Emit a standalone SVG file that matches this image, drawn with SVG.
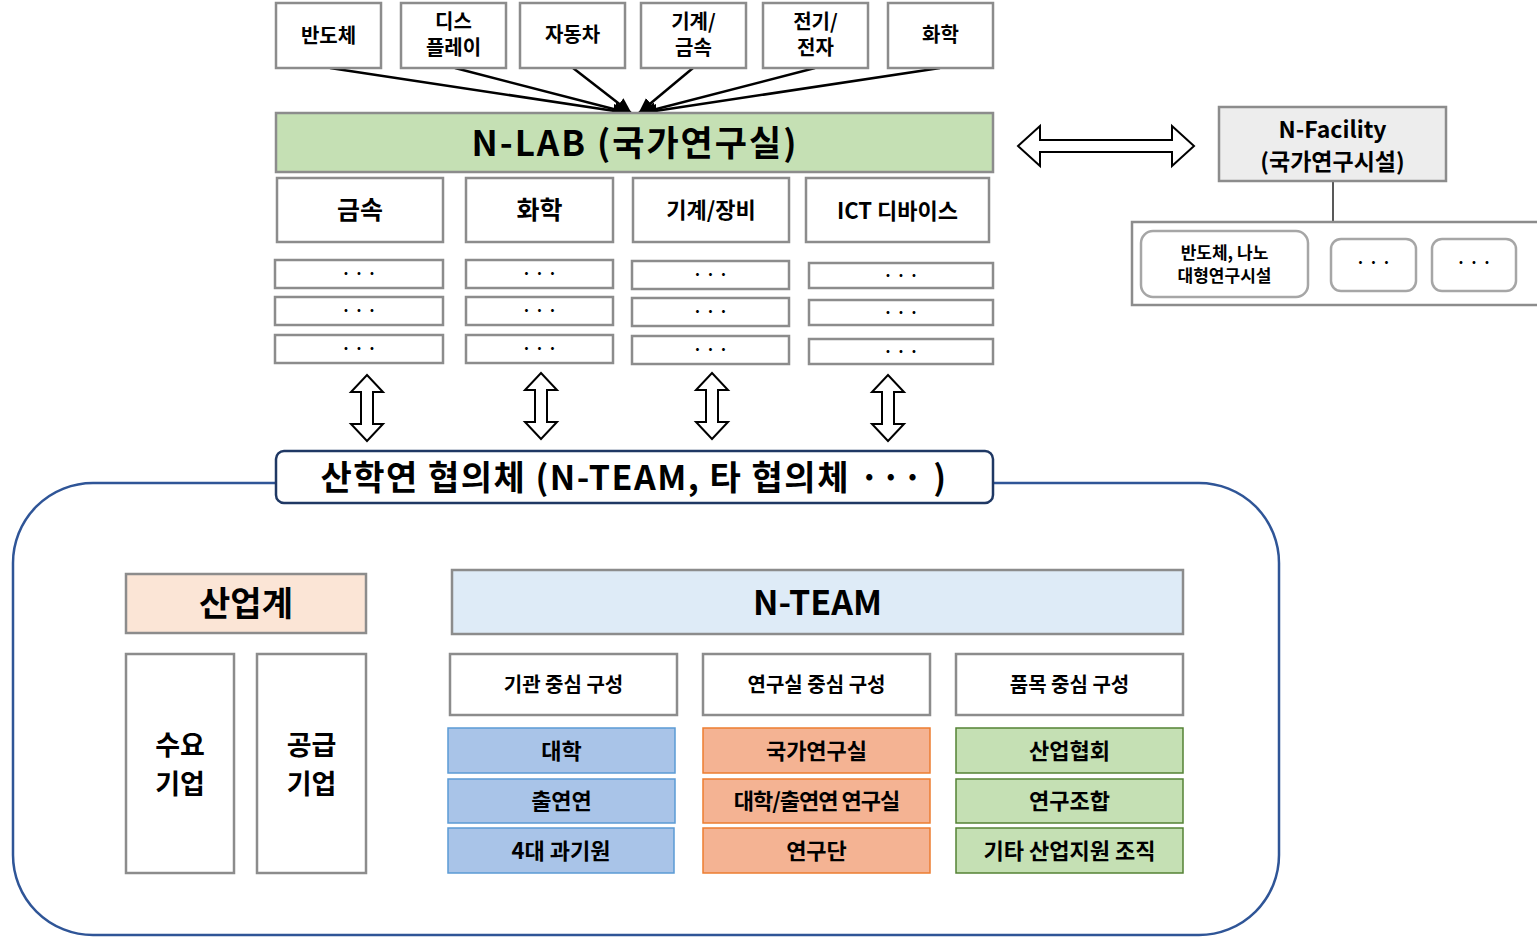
<svg xmlns="http://www.w3.org/2000/svg" width="1537" height="937" viewBox="0 0 1537 937">
<style>
text{font-family:"Noto Sans CJK KR","Noto Sans",sans-serif;font-weight:bold;text-anchor:middle;fill:#000}
.box{fill:#fff;stroke:#8c8c8c;stroke-width:2.5}
.dot{fill:#fff;stroke:#8c8c8c;stroke-width:2.5}
.conn{stroke:#000;stroke-width:2.5;fill:none}
.darr{fill:#fff;stroke:#000;stroke-width:2}
.blue{fill:#a9c4e8;stroke:#5b9bd5;stroke-width:1.5}
.orange{fill:#f4b393;stroke:#ed7d31;stroke-width:1.5}
.green{fill:#c5e0b4;stroke:#548235;stroke-width:1.5}
</style>
<defs>
<marker id="ah" markerWidth="16" markerHeight="14" refX="15" refY="7" orient="auto" markerUnits="userSpaceOnUse">
<path d="M0,0 L16,7 L0,14 Z" fill="#000"/>
</marker>
<path id="varr" d="M0,0 L16,17 L6,17 L6,49 L16,49 L0,66 L-16,49 L-6,49 L-6,17 L-16,17 Z"/>
</defs>

<!-- big container -->
<rect id="container" x="13" y="483" width="1266" height="452" rx="80" fill="#fff" stroke="#2f5597" stroke-width="2.5"/>

<!-- connectors -->
<g id="connectors">
<line class="conn" x1="330" y1="68" x2="628" y2="113" marker-end="url(#ah)"/>
<line class="conn" x1="455" y1="68" x2="629" y2="113" marker-end="url(#ah)"/>
<line class="conn" x1="573" y1="68" x2="631" y2="113" marker-end="url(#ah)"/>
<line class="conn" x1="693" y1="68" x2="639" y2="113" marker-end="url(#ah)"/>
<line class="conn" x1="815" y1="68" x2="641" y2="113" marker-end="url(#ah)"/>
<line class="conn" x1="940" y1="68" x2="642" y2="113" marker-end="url(#ah)"/>
<use href="#varr" class="darr" x="367" y="375"/>
<use href="#varr" class="darr" x="541" y="373"/>
<use href="#varr" class="darr" x="712" y="373"/>
<use href="#varr" class="darr" x="888" y="375"/>
<path class="darr" d="M1018,146 L1040,126 L1040,140 L1172,140 L1172,126 L1194,146 L1172,166 L1172,152 L1040,152 L1040,166 Z"/>
<line x1="1333" y1="181" x2="1333" y2="222" stroke="#595959" stroke-width="2"/>
</g>

<!-- top industry boxes -->
<g id="top-bandoche"><rect class="box" x="276" y="3" width="105" height="65"/><text x="328.5" y="43" font-size="20">반도체</text></g>
<g id="top-display"><rect class="box" x="401" y="3" width="105" height="65"/><text x="453.5" y="29" font-size="20">디스</text><text x="453.5" y="55" font-size="20">플레이</text></g>
<g id="top-car"><rect class="box" x="520" y="3" width="105" height="65"/><text x="572.5" y="42" font-size="20">자동차</text></g>
<g id="top-machine"><rect class="box" x="641" y="3" width="105" height="65"/><text x="693.5" y="29" font-size="20">기계/</text><text x="693.5" y="55" font-size="20">금속</text></g>
<g id="top-elec"><rect class="box" x="763" y="3" width="105" height="65"/><text x="815.5" y="29" font-size="20">전기/</text><text x="815.5" y="55" font-size="20">전자</text></g>
<g id="top-chem"><rect class="box" x="888" y="3" width="105" height="65"/><text x="940.5" y="42" font-size="20">화학</text></g>

<!-- N-LAB -->
<g id="nlab"><rect x="276" y="113" width="717" height="59" fill="#c5e0b4" stroke="#8c8c8c" stroke-width="2.5"/><text x="635" y="156" font-size="35" letter-spacing="2">N-LAB (국가연구실)</text></g>

<!-- categories -->
<g id="cat-metal"><rect class="box" x="277" y="178" width="166" height="64"/><text x="360" y="219" font-size="25">금속</text></g>
<g id="cat-chem"><rect class="box" x="466" y="178" width="147" height="64"/><text x="539.5" y="219" font-size="25">화학</text></g>
<g id="cat-mach"><rect class="box" x="633" y="178" width="156" height="64"/><text x="711" y="218" font-size="22">기계/장비</text></g>
<g id="cat-ict"><rect class="box" x="806" y="178" width="183" height="64"/><text x="897.5" y="219" font-size="22">ICT 디바이스</text></g>

<!-- dot rows -->
<g id="dots-1">
<rect class="dot" x="275" y="260" width="168" height="28"/><text x="359" y="279" font-size="16">· · ·</text>
<rect class="dot" x="275" y="297" width="168" height="28"/><text x="359" y="316" font-size="16">· · ·</text>
<rect class="dot" x="275" y="335" width="168" height="28"/><text x="359" y="354" font-size="16">· · ·</text>
</g>
<g id="dots-2">
<rect class="dot" x="466" y="260" width="147" height="28"/><text x="539.5" y="279" font-size="16">· · ·</text>
<rect class="dot" x="466" y="297" width="147" height="28"/><text x="539.5" y="316" font-size="16">· · ·</text>
<rect class="dot" x="466" y="335" width="147" height="28"/><text x="539.5" y="354" font-size="16">· · ·</text>
</g>
<g id="dots-3">
<rect class="dot" x="632" y="261" width="157" height="28"/><text x="710.5" y="280" font-size="16">· · ·</text>
<rect class="dot" x="632" y="298" width="157" height="28"/><text x="710.5" y="317" font-size="16">· · ·</text>
<rect class="dot" x="632" y="336" width="157" height="28"/><text x="710.5" y="355" font-size="16">· · ·</text>
</g>
<g id="dots-4">
<rect class="dot" x="809" y="263" width="184" height="25"/><text x="901" y="281" font-size="16">· · ·</text>
<rect class="dot" x="809" y="300" width="184" height="25"/><text x="901" y="318" font-size="16">· · ·</text>
<rect class="dot" x="809" y="339" width="184" height="25"/><text x="901" y="357" font-size="16">· · ·</text>
</g>

<!-- consortium band -->
<g id="consortium"><rect x="276" y="451" width="717" height="52" rx="8" fill="#fff" stroke="#1f3864" stroke-width="2.5"/><text x="634" y="490" font-size="34" letter-spacing="1.5">산학연 협의체 (N-TEAM, 타 협의체 ··· )</text></g>

<!-- N-Facility -->
<g id="nfacility"><rect x="1219" y="107" width="227" height="74" fill="#ededed" stroke="#8c8c8c" stroke-width="2.5"/><text x="1332.5" y="138" font-size="23">N-Facility</text><text x="1332.5" y="170" font-size="23">(국가연구시설)</text></g>
<g id="facility-group">
<rect x="1132" y="222" width="410" height="83" fill="#fff" stroke="#8c8c8c" stroke-width="2.5"/>
<rect x="1141" y="231" width="167" height="66" rx="12" fill="#fff" stroke="#a6a6a6" stroke-width="2.5"/><text x="1224.5" y="259" font-size="17">반도체, 나노</text><text x="1224.5" y="282" font-size="17">대형연구시설</text>
<rect x="1331" y="239" width="85" height="52" rx="10" fill="#fff" stroke="#a6a6a6" stroke-width="2.5"/><text x="1373.5" y="268" font-size="16">· · ·</text>
<rect x="1432" y="239" width="84" height="52" rx="10" fill="#fff" stroke="#a6a6a6" stroke-width="2.5"/><text x="1474" y="268" font-size="16">· · ·</text>
</g>

<!-- industry -->
<g id="industry"><rect x="126" y="574" width="240" height="59" fill="#fbe5d6" stroke="#8c8c8c" stroke-width="2.5"/><text x="246" y="616" font-size="34">산업계</text></g>
<g id="demand"><rect class="box" x="126" y="654" width="108" height="219"/><text x="180" y="755" font-size="27">수요</text><text x="180" y="794" font-size="27">기업</text></g>
<g id="supply"><rect class="box" x="257" y="654" width="109" height="219"/><text x="311.5" y="755" font-size="27">공급</text><text x="311.5" y="794" font-size="27">기업</text></g>

<!-- N-TEAM -->
<g id="nteam"><rect x="452" y="570" width="731" height="64" fill="#deebf7" stroke="#8c8c8c" stroke-width="2.5"/><text x="817.5" y="615" font-size="34">N-TEAM</text></g>
<g id="col-inst">
<rect class="box" x="450" y="654" width="227" height="61"/><text x="563.5" y="692" font-size="20" font-weight="normal">기관 중심 구성</text>
<rect class="blue" x="448" y="728" width="227" height="45"/><text x="561.5" y="759" font-size="22">대학</text>
<rect class="blue" x="448" y="779" width="227" height="44"/><text x="561.5" y="809" font-size="22">출연연</text>
<rect class="blue" x="448" y="828" width="226" height="45"/><text x="561" y="859" font-size="22">4대 과기원</text>
</g>
<g id="col-lab">
<rect class="box" x="703" y="654" width="227" height="61"/><text x="816.5" y="692" font-size="20" font-weight="normal">연구실 중심 구성</text>
<rect class="orange" x="703" y="728" width="227" height="45"/><text x="816.5" y="759" font-size="22">국가연구실</text>
<rect class="orange" x="703" y="779" width="227" height="44"/><text x="816.5" y="809" font-size="22" letter-spacing="-1">대학/출연연 연구실</text>
<rect class="orange" x="703" y="828" width="227" height="45"/><text x="816.5" y="859" font-size="22">연구단</text>
</g>
<g id="col-item">
<rect class="box" x="956" y="654" width="227" height="61"/><text x="1069.5" y="692" font-size="20" font-weight="normal">품목 중심 구성</text>
<rect class="green" x="956" y="728" width="227" height="45"/><text x="1069.5" y="759" font-size="22">산업협회</text>
<rect class="green" x="956" y="779" width="227" height="44"/><text x="1069.5" y="809" font-size="22">연구조합</text>
<rect class="green" x="956" y="828" width="227" height="45"/><text x="1069.5" y="859" font-size="22">기타 산업지원 조직</text>
</g>
</svg>
